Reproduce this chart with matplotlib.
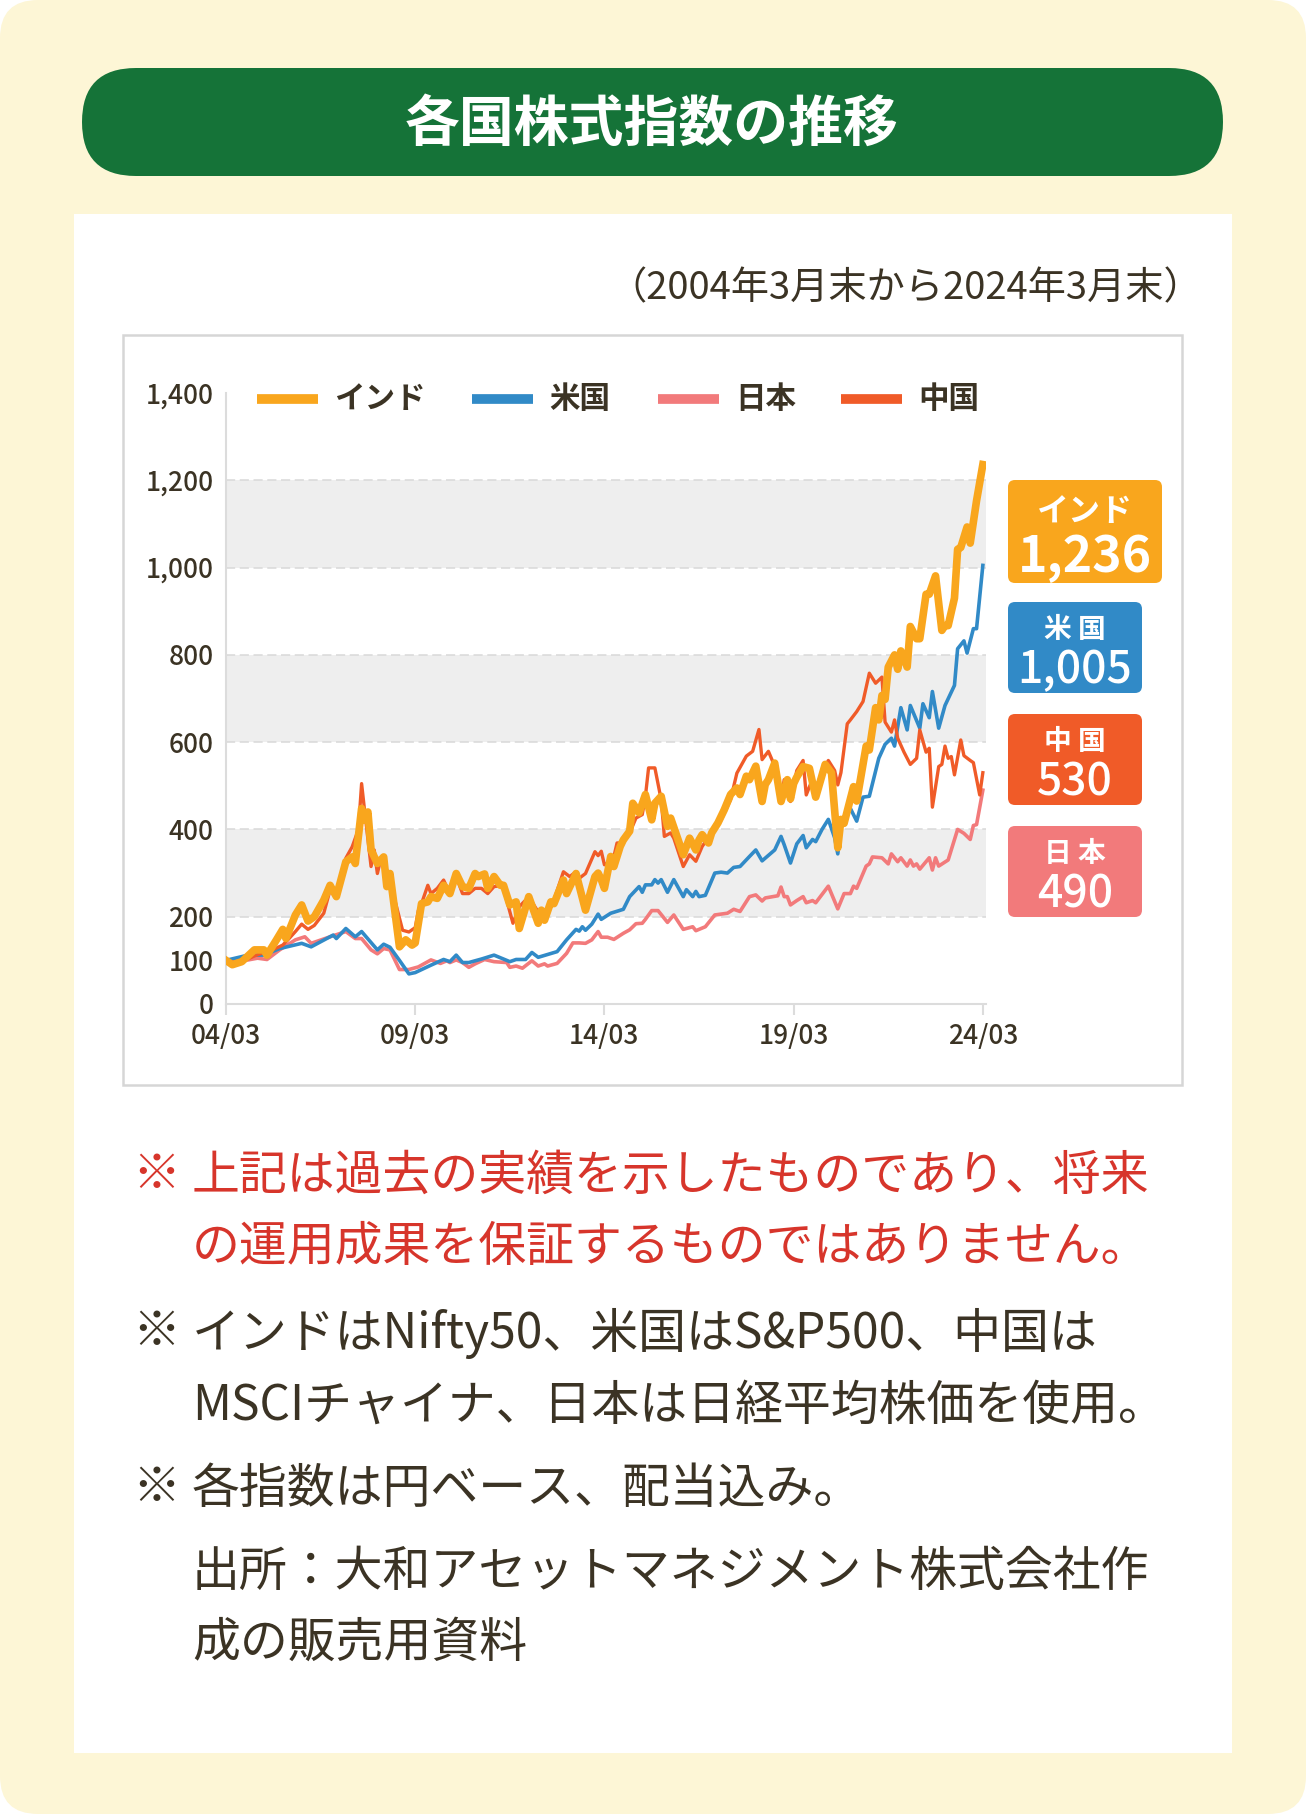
import matplotlib
matplotlib.use("Agg")
import matplotlib.pyplot as plt
from matplotlib.patches import FancyBboxPatch, Rectangle

plt.rcParams['font.family'] = ['Noto Sans CJK JP', 'DejaVu Sans']

# months counted from 2004/03 (0) to 2024/03 (240), index 2004/03 = 100
india_m = [0, 2, 5, 9, 12, 13, 16, 18, 19, 22, 24, 26, 28, 31, 33, 35, 38, 40, 41, 43, 44, 45, 46, 48, 50, 51, 52, 55, 57, 59,
           60, 61, 62, 64, 65, 67, 68, 69, 71, 73, 75, 77, 79, 80, 82, 83, 85, 87, 88, 90, 92, 93, 96, 99, 100, 101, 103, 104, 107, 108, 111, 114, 117,
           118, 119, 120, 122, 123, 125, 126, 128, 129, 131, 133, 135, 136, 138, 140, 141, 143, 145, 146, 147, 149, 150, 151, 153, 154, 156, 158, 160, 162, 163, 165, 166, 168, 170, 171, 172, 174, 176, 178, 179,
           180, 181, 183, 185, 187, 190, 192, 194, 195, 196, 199, 200, 203, 204, 206, 207, 208, 209, 210, 212, 213, 214, 216, 217, 219, 220, 222, 223, 225, 227, 228, 229, 231, 232, 233, 235, 236, 238, 240]
india_v = [100, 90, 97, 124, 124, 112, 147, 171, 150, 204, 227, 190, 200, 238, 272, 246, 326, 337, 322, 448, 421, 440, 353, 322, 337, 269, 299, 131, 147, 135,
           140, 185, 230, 234, 246, 242, 257, 272, 253, 299, 269, 265, 299, 292, 298, 265, 292, 272, 272, 227, 234, 173, 246, 185, 215, 192, 234, 230, 284, 253, 299, 215, 292,
           300, 285, 265, 338, 315, 361, 376, 396, 460, 438, 480, 422, 460, 476, 407, 426, 384, 342, 361, 380, 353, 376, 388, 369, 392, 415, 445, 480, 495, 480, 522, 514, 545, 464, 503, 514, 552, 464, 514, 470,
           505, 520, 544, 540, 474, 549, 530, 358, 423, 414, 498, 465, 591, 582, 679, 651, 707, 698, 772, 800, 767, 809, 772, 865, 837, 837, 939, 939, 981, 856, 867, 867, 930, 1042, 1046, 1093, 1056, 1153, 1236]

us_m = [0, 7, 12, 17, 24, 27, 34, 35, 38, 41, 43, 48, 50, 52, 55, 58,
        60, 65, 69, 71, 73, 75, 77, 81, 85, 90, 92, 95, 97, 99, 105, 108, 111, 112, 113, 114, 116,
        118, 119, 122, 126, 128, 131, 132, 133, 135, 136, 137, 138, 140, 142, 145, 146, 148, 149, 150, 152, 155, 157, 159, 161, 163, 166, 168, 170, 174, 176, 177, 179,
        181, 183, 184, 186, 187, 189, 191, 193, 194, 195, 198, 200, 202, 204, 207, 209, 211, 212, 214, 216, 217, 220, 221, 223, 224, 226, 228, 231, 232, 234, 235, 237, 238, 240]
us_v = [100, 112, 112, 127, 139, 131, 158, 150, 173, 154, 166, 124, 137, 130, 100, 69,
        72, 89, 102, 97, 112, 95, 95, 103, 112, 97, 102, 102, 118, 107, 120, 147, 171, 167, 177, 169, 183,
        206, 194, 208, 217, 246, 269, 256, 273, 273, 285, 277, 285, 256, 285, 246, 262, 246, 258, 246, 249, 300, 302, 300, 313, 315, 338, 353, 328, 353, 384, 365, 323,
        367, 386, 358, 377, 372, 400, 423, 381, 344, 405, 448, 419, 474, 476, 563, 595, 609, 591, 679, 628, 684, 632, 688, 656, 716, 632, 684, 730, 814, 832, 804, 860, 860, 1005]

japan_m = [0, 7, 10, 13, 17, 22, 25, 27, 33, 38, 41, 43, 46, 48, 50, 52, 55, 58,
           61, 65, 68, 70, 71, 73, 75, 77, 79, 82, 85, 89, 90, 92, 94, 97, 99, 101, 102, 105, 108, 110, 112, 114, 116, 118, 119, 121,
           123, 126, 128, 130, 132, 133, 135, 137, 140, 142, 145, 148, 149, 152, 155, 159, 161, 163, 166, 168, 170, 171, 175, 176, 177, 178, 179,
           181, 183, 184, 186, 187, 191, 194, 196, 198, 199, 200, 203, 204, 205, 208, 210, 211, 213, 214, 216, 217, 218, 219, 220, 223, 224, 225, 226, 229, 232, 234, 236, 237, 238, 240]
japan_v = [100, 101, 105, 102, 124, 147, 154, 139, 154, 166, 150, 150, 124, 115, 127, 124, 79, 79,
           85, 101, 93, 99, 95, 101, 95, 84, 92, 102, 97, 95, 84, 87, 82, 99, 87, 92, 87, 93, 116, 140, 140, 139, 147, 166, 153, 153,
           148, 162, 170, 184, 185, 194, 214, 214, 187, 204, 171, 177, 168, 177, 204, 208, 217, 212, 246, 250, 236, 243, 248, 268, 246, 246, 227,
           237, 246, 232, 237, 232, 270, 218, 253, 253, 270, 265, 316, 321, 337, 335, 321, 344, 326, 335, 316, 330, 316, 321, 309, 335, 307, 335, 316, 330, 400, 391, 377, 409, 411, 490]

china_m = [0, 3, 6, 9, 12, 15, 18, 20, 22, 24, 26, 28, 31, 33, 35, 38, 40, 42, 43, 44, 46, 47, 48, 49, 51, 53, 56, 58,
           60, 61, 62, 64, 65, 67, 69, 71, 73, 75, 77, 79, 81, 83, 85, 88, 89, 91, 93, 95, 97, 99, 102, 104, 107, 109, 111, 112, 114, 117,
           118, 119, 120, 121, 123, 124, 126, 128, 130, 132, 133, 134, 136, 138, 139, 141, 142, 145, 147, 149, 151, 154, 157, 160, 162, 165, 167, 169, 170, 172, 174, 176, 177, 179,
           181, 183, 184, 186, 187, 189, 191, 193, 194, 195, 197, 198, 200, 202, 204, 206, 208, 209, 211, 212, 213, 215, 217, 219, 220, 222, 223, 224, 226, 227, 228, 229, 230, 231, 233, 234, 236, 237, 239, 240]
china_v = [100, 95, 100, 110, 118, 125, 135, 150, 166, 183, 171, 180, 208, 261, 253, 334, 360, 400, 505, 440, 315, 353, 299, 330, 307, 253, 169, 165,
           175, 214, 230, 272, 253, 265, 284, 253, 292, 253, 253, 265, 265, 253, 269, 272, 238, 185, 223, 238, 234, 211, 215, 238, 303, 292, 303, 288, 299, 349,
           340, 350, 319, 323, 338, 369, 369, 392, 426, 434, 476, 541, 541, 468, 384, 392, 380, 315, 342, 327, 361, 392, 422, 468, 529, 568, 579, 629, 560, 579, 545, 468, 514, 464,
           535, 558, 479, 516, 493, 530, 558, 535, 502, 530, 642, 651, 670, 693, 758, 735, 749, 646, 623, 651, 609, 577, 549, 563, 628, 577, 586, 451, 544, 549, 591, 563, 567, 525, 605, 569, 558, 553, 479, 530]

names = ['インド', '米国', '日本', '中国']
colors = ['#f9a61d', '#318ac7', '#f27a7b', '#f05b28']
final_labels = ['1,236', '1,005', '490', '530']
tick_months = [0, 60, 120, 180, 240]
tick_labels = ['04/03', '09/03', '14/03', '19/03', '24/03']
y_ticks = [0, 100, 200, 400, 600, 800, 1000, 1200, 1400]

ink = '#3b3324'
W, H = 1306, 1814
fig = plt.figure(figsize=(W / 100, H / 100), dpi=100)
fig.patch.set_facecolor('white')

# page background in pixel coordinates
bg = fig.add_axes([0, 0, 1, 1])
bg.set_xlim(0, W)
bg.set_ylim(H, 0)
bg.axis('off')
bg.add_patch(FancyBboxPatch((0, 0), W, H, boxstyle='round,pad=0,rounding_size=38',
                            fc='#fdf6d6', ec='none'))
bg.add_patch(FancyBboxPatch((82, 68), 1141, 108, boxstyle='round,pad=0,rounding_size=54',
                            fc='#157338', ec='none'))
bg.text(652, 124, '各国株式指数の推移', color='white', fontsize=39.5, fontweight='bold',
        ha='center', va='center')
bg.add_patch(Rectangle((74, 214), 1158, 1539, fc='white', ec='none'))
bg.text(905, 289, '（2004年3月末から2024年3月末）', color=ink, fontsize=27.5,
        ha='center', va='center')
bg.add_patch(Rectangle((123, 335), 1059, 750, fc='white', ec='#d6d6d6', lw=1.8))

# legend
leg_x = [257, 472, 658, 841]
for lx, name, c in zip(leg_x, names, colors):
    bg.plot([lx, lx + 61], [399, 399], color=c, lw=7, solid_capstyle='butt')
    bg.text(lx + 77, 399, name, color=ink, fontsize=22, fontweight='bold', va='center')

bg.text(250, 507, '※2004年3月末を100として指数化', color=ink, fontsize=23, va='center')
bg.text(250, 545, '※月次ベース', color=ink, fontsize=23, va='center')

# value badges
badges = [(0, 480, 154, 103, 'インド', 23, 36, 'bold'),
          (1, 602, 134, 91, '米 国', 20, 32, 'medium'),
          (3, 714, 134, 91, '中 国', 20, 32, 'medium'),
          (2, 826, 134, 91, '日 本', 20, 32, 'medium')]
for i, top, w, h, lab, fs1, fs2, wt in badges:
    bg.add_patch(FancyBboxPatch((1008, top), w, h, boxstyle='round,pad=0,rounding_size=7',
                                fc=colors[i], ec='none'))
    cx = 1008 + w / 2
    bg.text(cx, top + h * 0.31, lab, color='white', fontsize=fs1, fontweight='bold',
            ha='center', va='center')
    bg.text(cx, top + h * 0.70 + 5, final_labels[i], color='white', fontsize=fs2, fontweight=wt,
            ha='center', va='center')

# notes under the chart
red = '#d7352b'
notes = [(1176, '※', '上記は過去の実績を示したものであり、将来', red),
         (1247, '', 'の運用成果を保証するものではありません。', red),
         (1333, '※', 'インドはNifty50、米国はS&P500、中国は', ink),
         (1406, '', 'MSCIチャイナ、日本は日経平均株価を使用。', ink),
         (1489, '※', '各指数は円ベース、配当込み。', ink),
         (1572, '', '出所：大和アセットマネジメント株式会社作', ink),
         (1643, '', '成の販売用資料', ink)]
for y, mark, txt, c in notes:
    if mark:
        bg.text(132, y, mark, color=c, fontsize=34.5, va='center')
    bg.text(192, y, txt, color=c, fontsize=34.5, va='center')

# chart
ax = fig.add_axes([226 / W, 1 - 1004 / H, 760 / W, 611 / H])
ax.patch.set_visible(False)
ax.set_xlim(0, 241)
ax.set_ylim(0, 1400)
for lo in [200, 600, 1000]:
    ax.axhspan(lo, lo + 200, color='#eeeeee', lw=0, zorder=0)
for v in [200, 400, 600, 800, 1000, 1200]:
    ax.axhline(v, color='#d9d9d9', lw=1.1, ls=(0, (6, 3)), zorder=1)

ax.plot(japan_m, japan_v, color=colors[2], lw=2.6, zorder=3)
ax.plot(us_m, us_v, color=colors[1], lw=2.6, zorder=4)
ax.plot(china_m, china_v, color=colors[3], lw=2.4, zorder=5)
ax.plot(india_m, india_v, color=colors[0], lw=5.5, zorder=6)

for s in ['top', 'right']:
    ax.spines[s].set_visible(False)
for s in ['left', 'bottom']:
    ax.spines[s].set_color('#dcdcdc')
    ax.spines[s].set_linewidth(1.5)
ax.set_xticks(tick_months)
ax.set_xticklabels(tick_labels)
ax.set_yticks(y_ticks)
ax.set_yticklabels([f'{v:,}' for v in y_ticks])
ax.tick_params(axis='x', length=8, width=1.5, color='#dcdcdc', pad=6,
               labelsize=19, labelcolor=ink)
ax.tick_params(axis='y', length=0, pad=9, labelsize=19, labelcolor=ink)
for t in ax.get_xticklabels() + ax.get_yticklabels():
    t.set_fontweight('medium')

fig.savefig('out.png', dpi=100)
